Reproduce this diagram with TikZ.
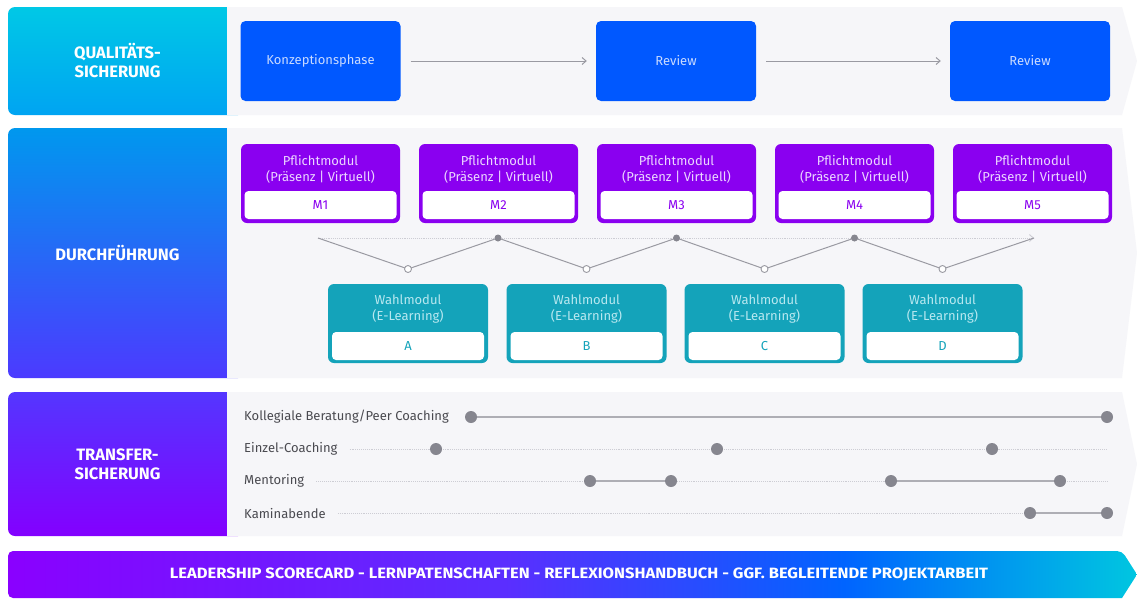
\documentclass[tikz,border=0pt]{standalone}
\usepackage{graphicx}
\usepackage{fontspec}
\setmainfont{Fira Sans}
\usetikzlibrary{arrows.meta}
\pgfdeclarelayer{back}
\pgfdeclarelayer{lines}
\pgfsetlayers{back,lines,main}
\definecolor{panelgrey}{HTML}{F6F6F9}
\definecolor{qblue}{HTML}{0058FF}
\definecolor{qtext}{HTML}{C9DAFF}
\definecolor{ppurple}{HTML}{8A00F0}
\definecolor{ptext}{HTML}{EBD6FF}
\definecolor{wteal}{HTML}{14A3BA}
\definecolor{wtext}{HTML}{B8E8F0}
\definecolor{linegrey}{HTML}{9A9AA2}
\definecolor{dotgrey}{HTML}{86868F}
\definecolor{lightdot}{HTML}{CDCDD4}
\definecolor{tgrey}{HTML}{4A4A50}
\definecolor{sAtop}{HTML}{00C8E6}
\definecolor{sAbot}{HTML}{00A4F2}
\definecolor{sBtop}{HTML}{0098EE}
\definecolor{sBmid}{HTML}{0062FF}
\definecolor{sBbot}{HTML}{4C3AFF}
\definecolor{sCtop}{HTML}{5436FF}
\definecolor{sCbot}{HTML}{8300FF}
\definecolor{barA}{HTML}{8A00FF}
\definecolor{barB}{HTML}{5B2EFF}
\definecolor{barC}{HTML}{0064FF}
\definecolor{barD}{HTML}{00C6E0}
\pgfdeclarehorizontalshading{barshade}{100bp}{color(0bp)=(barA); color(25bp)=(barA); color(47bp)=(barB); color(62bp)=(barC); color(75bp)=(barD); color(100bp)=(barD)}
\tikzset{
  panel/.style={fill=panelgrey},
  seclab/.style={text=white, font=\bfseries\fontsize{16.5}{19}\selectfont, align=center},
  bluebox/.style={fill=qblue, rounded corners=5pt, minimum width=160pt, minimum height=80pt, text=qtext, font=\fontsize{13}{15}\selectfont},
  pbox/.style={fill=ppurple, rounded corners=6pt, minimum width=159pt, minimum height=79pt},
  wbox/.style={fill=wteal, rounded corners=6pt, minimum width=160pt, minimum height=79pt},
  inner/.style={fill=white, rounded corners=4pt, minimum width=152pt, minimum height=28pt, font=\fontsize{13}{15}\selectfont},
  ptitle/.style={text=ptext, align=center, font=\fontsize{13}{16}\selectfont},
  wtitle/.style={text=wtext, align=center, font=\fontsize{13}{16}\selectfont},
  flow/.style={draw=linegrey, line width=1pt, -{Straight Barb[length=4pt,width=7pt]}},
  zig/.style={draw=linegrey, line width=1pt},
  guide/.style={draw=lightdot, line width=0.9pt, densely dotted},
  odot/.style={circle, draw=linegrey, fill=white, line width=0.9pt, inner sep=0pt, minimum size=7pt},
  fdot/.style={circle, fill=dotgrey, inner sep=0pt, minimum size=7pt},
  tdot/.style={circle, fill=dotgrey, inner sep=0pt, minimum size=12pt},
  tline/.style={draw=linegrey!80, line width=1.3pt},
  tlab/.style={anchor=west, text=tgrey, font=\fontsize{13}{15}\selectfont, inner sep=0pt}
}
\begin{document}
\begin{tikzpicture}[x=1pt,y=-1pt]
\useasboundingbox (0,0) rectangle (1137,600);
\begin{pgfonlayer}{back}
\fill[white] (0,0) rectangle (1137,600);
% section label boxes
\shade[top color=sAtop, bottom color=sAbot, rounded corners=7pt] (8,7) rectangle (245,115);
\shade[top color=sBtop, middle color=sBmid, bottom color=sBbot, rounded corners=7pt] (8,128) rectangle (245,378);
\shade[top color=sCtop, bottom color=sCbot, rounded corners=7pt] (8,392) rectangle (245,536);
% panels
\fill[panel] (227,7) -- (1122,7) -- (1137,61) -- (1122,115) -- (227,115) -- cycle;
\fill[panel] (227,128) -- (1122,128) -- (1137,253) -- (1122,378) -- (227,378) -- cycle;
\fill[panel] (227,392) -- (1122,392) -- (1137,464) -- (1122,536) -- (227,536) -- cycle;
% bottom bar
\shade[shading=barshade, rounded corners=5pt] (8,551) -- (1122,551) [sharp corners] -- (1137,574.5) -- (1122,598) [rounded corners=5pt] -- (8,598) -- cycle;
\end{pgfonlayer}

\node[seclab] (lq) at (117.5,61) {QUALITÄTS-\\SICHERUNG};
\node[seclab] (ld) at (117.5,253) {DURCHFÜHRUNG};
\node[seclab] (lt) at (117.5,464) {TRANSFER-\\SICHERUNG};

% top row
\node[bluebox] (k) at (320.5,61) {Konzeptionsphase};
\node[bluebox] (r1) at (676,61) {Review};
\node[bluebox] (r2) at (1030,61) {Review};
\draw[flow, shorten <=10pt, shorten >=9pt] (k) -- (r1);
\draw[flow, shorten <=10pt, shorten >=9pt] (r1) -- (r2);

% Pflichtmodule
\foreach \i/\x in {1/320.5,2/498.5,3/676.5,4/854.5,5/1032.5}{
  \node[pbox] (p\i) at (\x,183.5) {};
  \node[ptitle] (pt\i) at (\x,169) {Pflichtmodul\\(Präsenz | Virtuell)};
  \node[inner, text=ppurple] (m\i) at (\x,205) {M\i};
}
% Wahlmodule
\foreach \n/\x in {A/408,B/586.5,C/764.5,D/942.5}{
  \node[wbox] (w\n) at (\x,323.5) {};
  \node[wtitle] (wt\n) at (\x,309.5) {Wahlmodul\\(E-Learning)};
  \node[inner, text=wteal] (i\n) at (\x,346) {\n};
}

% zigzag
\coordinate (z0) at (318,238);
\coordinate (z9) at (1034,238);
\node[odot] (o1) at (408,269) {};
\node[fdot] (f1) at (498,238) {};
\node[odot] (o2) at (586.5,269) {};
\node[fdot] (f2) at (676.5,238) {};
\node[odot] (o3) at (764.5,269) {};
\node[fdot] (f3) at (854.5,238) {};
\node[odot] (o4) at (942.5,269) {};
\begin{pgfonlayer}{lines}
\draw[guide, -{Straight Barb[length=4pt,width=7pt]}] (z0) -- (z9);
\draw[zig] (z0) -- (o1.center) -- (f1.center) -- (o2.center) -- (f2.center) -- (o3.center) -- (f3.center) -- (o4.center) -- (z9);
\end{pgfonlayer}

% transfer
\node[tlab] (t1) at (244,417) {Kollegiale Beratung/Peer Coaching};
\node[tlab] (t2) at (244,449) {Einzel-Coaching};
\node[tlab] (t3) at (244,481) {Mentoring};
\node[tlab] (t4) at (244,513) {Kaminabende};

\coordinate (e2) at (1107,449);
\coordinate (e3) at (1107,481);

\node[tdot] (a1) at (471,417) {};
\node[tdot] (a2) at (1107,417) {};
\node[tdot] (b1) at (436,449) {};
\node[tdot] (b2) at (717,449) {};
\node[tdot] (b3) at (992,449) {};
\node[tdot] (c1) at (590,481) {};
\node[tdot] (c2) at (671,481) {};
\node[tdot] (c3) at (891,481) {};
\node[tdot] (c4) at (1060,481) {};
\node[tdot] (d1) at (1030,513) {};
\node[tdot] (d2) at (1107,513) {};

\begin{pgfonlayer}{lines}
\draw[guide] ([xshift=12pt]t2.east) -- (e2);
\draw[guide] ([xshift=12pt]t3.east) -- (e3);
\draw[guide] ([xshift=12pt]t4.east) -- (d1);
\draw[tline] (a1) -- (a2);
\draw[tline] (c1) -- (c2);
\draw[tline] (c3) -- (c4);
\draw[tline] (d1) -- (d2);
\end{pgfonlayer}

\node[text=white, inner sep=0pt] (bar) at (579,574.5) {\resizebox{818pt}{10.6pt}{\bfseries LEADERSHIP SCORECARD - LERNPATENSCHAFTEN - REFLEXIONSHANDBUCH - GGF. BEGLEITENDE PROJEKTARBEIT}};
\end{tikzpicture}
\end{document}
